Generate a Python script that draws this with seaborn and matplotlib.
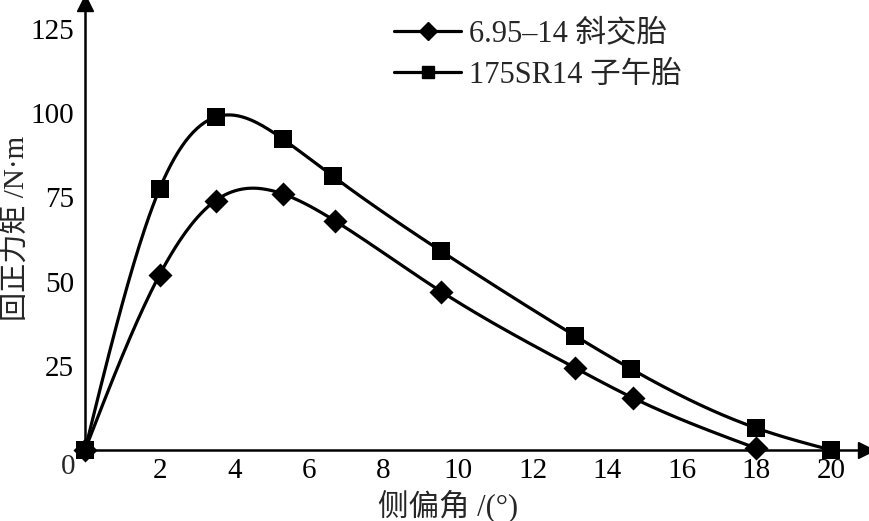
import numpy as np
import matplotlib
matplotlib.use("Agg")
import matplotlib.pyplot as plt
import seaborn as sns
from matplotlib.lines import Line2D

# ---- data ----
bias_x = [0.0, 2.0, 3.5, 5.3, 6.7, 9.55, 13.15, 14.7, 18.0]
bias_y = [0.0, 52.0, 74.0, 76.0, 68.0, 47.0, 24.3, 15.4, 0.5]
radial_x = [0.0, 2.0, 3.5, 5.3, 6.65, 9.55, 13.15, 14.65, 18.0, 20.0]
radial_y = [0.0, 77.5, 98.8, 92.3, 81.2, 59.0, 33.8, 24.0, 6.5, 0.0]
series_names = ["6.95\u201314 斜交胎", "175SR14 子午胎"]
x_ticks = [2, 4, 6, 8, 10, 12, 14, 16, 18, 20]
y_ticks = [25, 50, 75, 100, 125]


def smooth(x, y, n=400):
    """Natural cubic spline through the measured points (for drawing only)."""
    x = np.asarray(x, float)
    y = np.asarray(y, float)
    m = len(x)
    h = np.diff(x)
    A = np.zeros((m, m))
    b = np.zeros(m)
    A[0, 0] = 1
    A[-1, -1] = 1
    for i in range(1, m - 1):
        A[i, i - 1] = h[i - 1]
        A[i, i] = 2 * (h[i - 1] + h[i])
        A[i, i + 1] = h[i]
        b[i] = 6 * ((y[i + 1] - y[i]) / h[i] - (y[i] - y[i - 1]) / h[i - 1])
    M = np.linalg.solve(A, b)
    xs = np.linspace(x[0], x[-1], n)
    idx = np.clip(np.searchsorted(x, xs) - 1, 0, m - 2)
    x0, x1 = x[idx], x[idx + 1]
    hh = x1 - x0
    t0 = x1 - xs
    t1 = xs - x0
    ys = (M[idx] * t0**3 / (6 * hh) + M[idx + 1] * t1**3 / (6 * hh)
          + (y[idx] / hh - M[idx] * hh / 6) * t0
          + (y[idx + 1] / hh - M[idx + 1] * hh / 6) * t1)
    return xs, ys


sns.set_theme(style="white")
plt.rcParams["font.family"] = ["Liberation Serif", "Noto Sans CJK SC"]

fig = plt.figure(figsize=(8.69, 5.21), dpi=100)
ax = fig.add_axes([85 / 869, 1 - 450 / 521, (866 - 85) / 869, (450 - 3) / 521])

lw = 2.3
for (xx, yy, mk, ms) in [(bias_x, bias_y, "D", 150), (radial_x, radial_y, "s", 170)]:
    xs, ys = smooth(xx, yy)
    sns.lineplot(x=xs, y=ys, ax=ax, color="black", lw=lw, sort=False, legend=False)
    sns.scatterplot(x=xx, y=yy, ax=ax, marker=mk, s=ms, color="black",
                    edgecolor="black", linewidth=0, zorder=5, legend=False, clip_on=False)

ax.set_xlim(0, (866 - 85) / 37.3)
ax.set_ylim(0, (450 - 3) / 3.37)

for s in ["top", "right"]:
    ax.spines[s].set_visible(False)
for s in ["left", "bottom"]:
    ax.spines[s].set_color("black")
    ax.spines[s].set_linewidth(1.8)

ax.set_xticks(x_ticks)
ax.set_xticklabels([str(v) for v in x_ticks])
ax.set_yticks(y_ticks)
ax.set_yticklabels([str(v) for v in y_ticks])
ax.tick_params(axis="both", direction="in", length=7, width=1.6, color="black",
               labelsize=21, labelcolor="black")
ax.tick_params(axis="x", pad=6)
ax.tick_params(axis="y", pad=8)

# arrow heads
ax.plot(1, 0, marker=">", markersize=11, color="black", transform=ax.transAxes, clip_on=False)
ax.plot(0, 1, marker="^", markersize=11, color="black", transform=ax.transAxes, clip_on=False)

# origin label
ax.annotate("0", xy=(0, 0), xytext=(-17, -17), textcoords="offset pixels",
            ha="center", va="center", fontsize=21)

ax.set_xlabel("侧偏角 /(°)", fontsize=22)
ax.set_ylabel("回正力矩 /N·m", fontsize=21)
ax.xaxis.set_label_coords((448 - 85) / 781, -(506 - 450) / 447)
ax.yaxis.set_label_coords(-(85 - 17) / 781, (450 - 228) / 447)
ax.xaxis.label.set_va("center")
ax.yaxis.label.set_va("center")

handles = [Line2D([0], [0], color="black", lw=lw, marker="D", markersize=9),
           Line2D([0], [0], color="black", lw=lw, marker="s", markersize=9)]
leg = ax.legend(handles, series_names, loc="upper left", bbox_to_anchor=(0.38, 0.99),
                frameon=False, fontsize=22, handlelength=2.2, handletextpad=0.25,
                labelspacing=0.4, borderaxespad=0.0)

ax.grid(False)
fig.savefig("out.png", dpi=100)
